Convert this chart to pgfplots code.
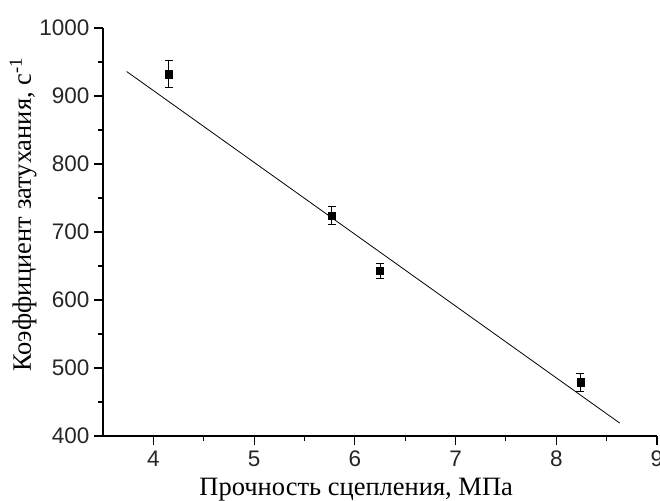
\documentclass[border=0pt]{standalone}
\usepackage{fontspec}
\setmainfont{Liberation Serif}
\newfontfamily\tickfont{Liberation Sans}
\usepackage{pgfplots}
\pgfplotsset{compat=1.18}
\begin{document}
\begin{tikzpicture}
\begin{axis}[
    at={(0pt,0pt)}, anchor=south west,
    scale only axis,
    width=554pt, height=408pt,
    xmin=3.5, xmax=9,
    ymin=400, ymax=1000,
    xtick={4,5,6,7,8,9},
    ytick={400,500,600,700,800,900,1000},
    minor x tick num=1,
    minor y tick num=1,
    axis x line*=bottom,
    axis y line*=left,
    axis line style={line width=1.2pt, -},
    tick style={line width=1.1pt, black},
    tick align=outside,
    major tick length=9pt,
    minor tick length=5pt,
    /pgf/number format/assume math mode=true,
    /pgf/number format/1000 sep={},
    tick label style={font=\tickfont\fontsize{22.5}{26}\selectfont, text=black!85},
    xticklabel style={yshift=-2pt},
    yticklabel style={xshift=-1pt},
    xlabel={Прочность сцепления, МПа},
    ylabel={Коэффициент затухания, с\textsuperscript{-1}},
    xlabel style={font=\fontsize{26.5}{30}\selectfont, at={(axis description cs:0.457,0)}, anchor=base, yshift=-59pt},
    ylabel style={font=\fontsize{26.5}{30}\selectfont, at={(axis description cs:-0.13,0.542)}, anchor=base},
    clip=false,
]
\addplot[black, line width=0.8pt] coordinates {(3.735,936) (8.63,419)};
\addplot[only marks, mark=square*, mark size=3.6pt, black,
    error bars/.cd, y dir=both, y explicit,
    error bar style={line width=1pt},
    error mark options={rotate=90, mark size=4pt, line width=1pt}]
coordinates {
    (4.155,932) +- (0,20)
    (5.77,724) +- (0,13)
    (6.25,643) +- (0,11)
    (8.24,479) +- (0,13)
};
\end{axis}
\pgfresetboundingbox
\path (-103pt,-64pt) rectangle (557pt,436pt);
\end{tikzpicture}
\end{document}
